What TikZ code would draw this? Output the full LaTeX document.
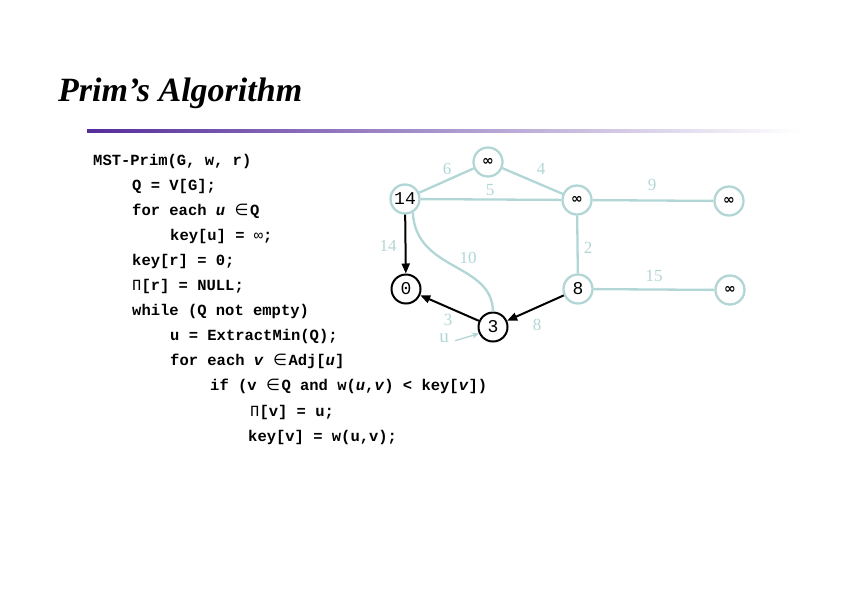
\documentclass[tikz,border=0pt]{standalone}
\usepackage{fontspec}
\setmainfont{Liberation Serif}
\newfontfamily\codefont{Liberation Mono}
\newfontfamily\inffont{DejaVu Sans}
\usetikzlibrary{arrows.meta}
\definecolor{edgelight}{RGB}{178,214,214}
\definecolor{titlepurple}{RGB}{85,45,155}
\tikzset{
  codeline/.style={anchor=base west, inner sep=0pt, font=\codefont\bfseries\fontsize{15.5}{18}\selectfont},
  vlight/.style={circle, draw=edgelight, line width=2.3pt, fill=white, minimum size=29pt, inner sep=0pt, font=\codefont\fontsize{18}{20}\selectfont},
  vdark/.style={circle, draw=black, line width=2pt, fill=white, minimum size=29pt, inner sep=0pt, font=\codefont\fontsize{18}{20}\selectfont},
  ledge/.style={draw=edgelight, line width=2.3pt},
  tedge/.style={draw=black, line width=2pt, -{Triangle[length=10pt,width=8pt]}},
  wlabel/.style={text=edgelight, font=\fontsize{17}{18}\selectfont, inner sep=0pt},
}
\newcommand{\inff}{{\inffont\bfseries\fontsize{14}{16}\selectfont ∞}}
\newcommand{\elem}{\makebox[15.5pt][l]{\inffont\mdseries\fontsize{16}{18}\selectfont ∈}}
\begin{document}
\begin{tikzpicture}[x=1pt,y=-1pt]
\useasboundingbox (0,0) rectangle (842,595);
% title
\node[anchor=base west, inner sep=0pt, font=\bfseries\itshape\fontsize{34}{40}\selectfont] (title) at (58,101.5) {Prim’s Algorithm};
\shade[left color=titlepurple, right color=white] (87,129.5) rectangle (800,132.5);
% code
\node[codeline] (c1) at (93,165) {MST-Prim(G, w, r)};
\node[codeline] (c2) at (132,190.1) {Q = V[G];};
\node[codeline] (c3) at (132,215.2) {for each \textit{u} \elem Q};
\node[codeline] (c4) at (170,240.3) {key[u] = {\mdseries ∞};};
\node[codeline] (c5) at (132,265.4) {key[r] = 0;};
\node[codeline] (c6) at (132,290.5) {{\mdseries Π}[r] = NULL;};
\node[codeline] (c7) at (132,315.6) {while (Q not empty)};
\node[codeline] (c8) at (170,340.7) {u = ExtractMin(Q);};
\node[codeline] (c9) at (170,365.8) {for each \textit{v} \elem Adj[\textit{u}]};
\node[codeline] (c10) at (210,390.9) {if (v \elem Q and w(\textit{u},\textit{v}) < key[\textit{v}])};
\node[codeline] (c11) at (250,416) {{\mdseries Π}[v] = u;};
\node[codeline] (c12) at (248,441.1) {key[v] = w(u,v);};
% vertices
\node[vlight] (ntop) at (488,162) {\inff};
\node[vlight] (n14) at (405,199) {14};
\node[vlight] (nmid) at (577,200) {\inff};
\node[vlight] (nr1) at (729,201) {\inff};
\node[vdark] (n0) at (406,289) {0};
\node[vlight] (n8) at (578,289) {8};
\node[vlight] (nr2) at (730,290) {\inff};
\node[vdark] (n3) at (493,327) {3};
% light edges
\draw[ledge] (n14) -- (ntop);
\draw[ledge] (ntop) -- (nmid);
\draw[ledge] (n14) -- (nmid);
\draw[ledge] (nmid) -- (nr1);
\draw[ledge] (nmid) -- (n8);
\draw[ledge] (n8) -- (nr2);
\draw[ledge] (n14.-60) .. controls (416,272) and (492,262) .. (n3.north);
% tree edges
\draw[tedge] (n14) -- (n0);
\draw[tedge] (n3) -- (n0);
\draw[tedge] (n8) -- (n3);
% weights
\node[wlabel] (w6) at (447,169) {6};
\node[wlabel] (w4) at (541,169) {4};
\node[wlabel] (w5) at (490,190) {5};
\node[wlabel] (w9) at (652,185) {9};
\node[wlabel] (w2) at (588,248) {2};
\node[wlabel] (w10) at (468,258) {10};
\node[wlabel] (w15) at (654,276) {15};
\node[wlabel] (w14) at (388,246) {14};
\node[wlabel] (w3) at (448,319.5) {3};
\node[wlabel, font=\fontsize{19}{20}\selectfont, anchor=base] (ulab) at (444,342) {u};
\node[wlabel] (w8) at (537,325) {8};
\draw[edgelight, line width=1.3pt, -{Stealth[length=7pt,width=6pt]}] ([xshift=6pt,yshift=-3pt]ulab.east) -- (n3.205);
\end{tikzpicture}
\end{document}
